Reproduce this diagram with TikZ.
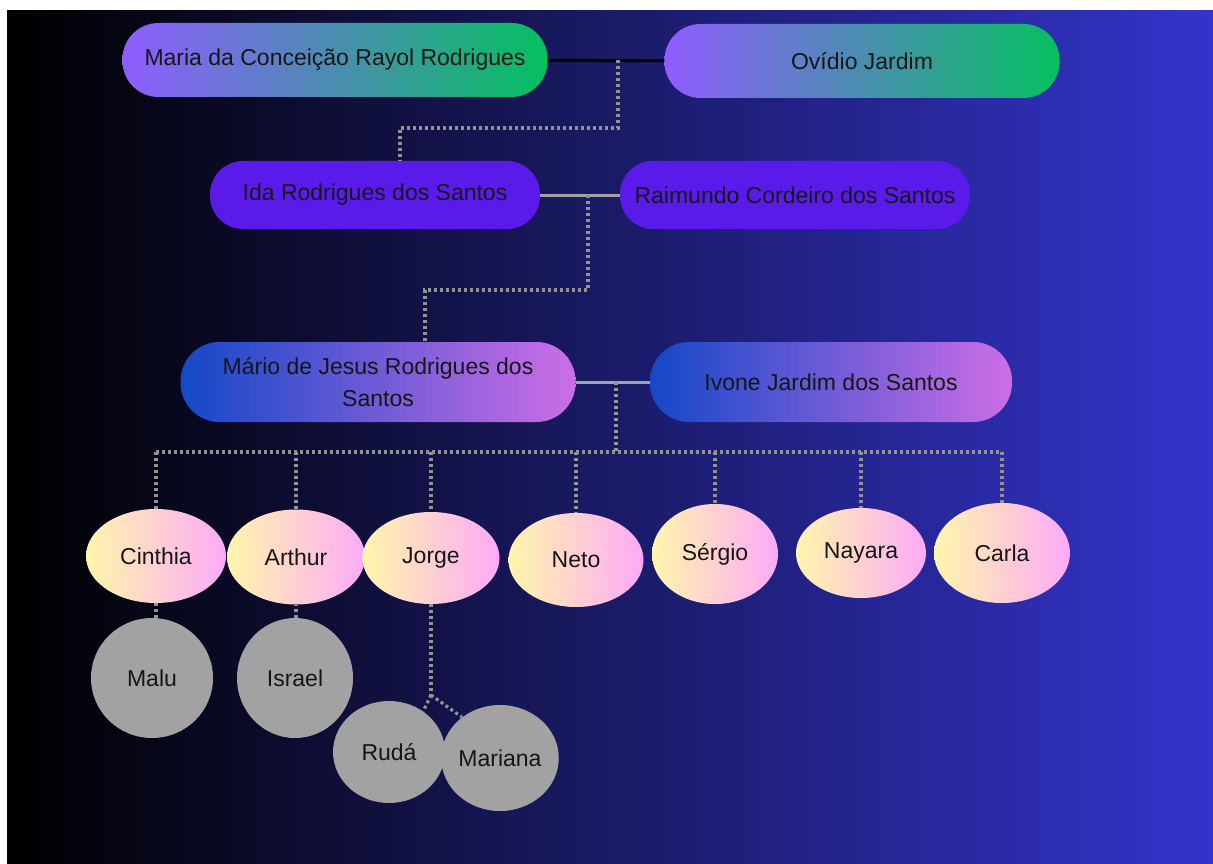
\documentclass[tikz,border=0pt]{standalone}
\usepackage{fontspec}
\setmainfont{Liberation Sans}
\usepackage{tikz}
\usetikzlibrary{shapes.geometric}

\definecolor{ink}{HTML}{161616}
\definecolor{bgright}{HTML}{3434CC}
\definecolor{lilac}{HTML}{8F5CFF}
\definecolor{emerald}{HTML}{05C060}
\definecolor{violet}{HTML}{5A1AEA}
\definecolor{royal}{HTML}{1448C8}
\definecolor{orchid}{HTML}{CC6EE6}
\definecolor{cream}{HTML}{FFF6AC}
\definecolor{rose}{HTML}{FCAAF8}
\definecolor{stone}{HTML}{A2A2A2}
\definecolor{dotgray}{HTML}{929292}

\begin{document}
\begin{tikzpicture}[x=1pt, y=-1pt,
  every node/.style={font=\fontsize{23}{32}\selectfont, text=ink, inner sep=0pt},
  pill/.style={rectangle, rounded corners=36pt, minimum height=74pt},
  greatgen/.style={pill, left color=lilac, right color=emerald},
  grandgen/.style={pill, rounded corners=33pt, minimum height=68pt, fill=violet},
  parentgen/.style={pill, rounded corners=39pt, minimum height=80pt, left color=royal, right color=orchid},
  child/.style={ellipse, left color=cream, right color=rose},
  grandchild/.style={ellipse, fill=stone},
  marriage/.style={line width=3pt},
  dotline/.style={draw=dotgray, line width=3.2pt, dash pattern=on 3pt off 3pt}]

  % background
  \useasboundingbox (0,0) rectangle (1213,864);
  \fill[white] (0,0) rectangle (1213,864);
  \shade[left color=black, right color=bgright] (7,11) rectangle (1213,864);

  % first couple
  \node[greatgen, minimum width=425pt] (maria) at (335,60) {Maria da Conceição Rayol Rodrigues};
  \node[greatgen, minimum width=395pt] (ovidio) at (862,61) {Ovídio Jardim};
  \draw[marriage, black] (maria) -- (ovidio);
  \coordinate (j1) at (618,60);

  % second couple
  \node[grandgen, minimum width=330pt] (ida) at (375,195) {Ida Rodrigues dos Santos};
  \node[grandgen, minimum width=350pt] (raimundo) at (795,195) {Raimundo Cordeiro dos Santos};
  \draw[marriage, stone] (ida) -- (raimundo);
  \coordinate (j2) at (588,195);
  \draw[dotline] (j1) -- ++(0,68) -| ([xshift=25pt]ida.north);

  % third couple
  \node[parentgen, minimum width=395pt, align=center] (mario) at (378,382) {Mário de Jesus Rodrigues dos\\Santos};
  \node[parentgen, minimum width=362pt] (ivone) at (831,382) {Ivone Jardim dos Santos};
  \draw[marriage, stone] (mario) -- (ivone);
  \coordinate (j3) at (616,382);
  \draw[dotline] (j2) -- ++(0,95) -| ([xshift=47pt]mario.north);

  % children
  \node[child, minimum width=140pt, minimum height=94pt] (cinthia) at (156,556) {Cinthia};
  \node[child, minimum width=138pt, minimum height=95pt] (arthur) at (296,557) {Arthur};
  \node[child, minimum width=137pt, minimum height=92pt] (jorge) at (431,558) {Jorge};
  \node[child, minimum width=135pt, minimum height=94pt] (neto) at (576,560) {Neto};
  \node[child, minimum width=126pt, minimum height=100pt] (sergio) at (715,554) {Sérgio};
  \node[child, minimum width=130pt, minimum height=90pt] (nayara) at (861,553) {Nayara};
  \node[child, minimum width=136pt, minimum height=100pt] (carla) at (1002,553) {Carla};
  \coordinate (bar) at (616,452);
  \draw[dotline] (j3) -- (bar);
  \draw[dotline] (cinthia.north |- bar) -- (carla.north |- bar);
  \foreach \kid in {cinthia,arthur,jorge,neto,sergio,nayara,carla}
    \draw[dotline] (\kid.north |- bar) -- (\kid.north);

  % grandchildren
  \node[grandchild, minimum width=122pt, minimum height=120pt] (malu) at (152,678) {Malu};
  \node[grandchild, minimum width=116pt, minimum height=120pt] (israel) at (295,678) {Israel};
  \node[grandchild, minimum width=112pt, minimum height=102pt] (ruda) at (389,752) {Rudá};
  \node[grandchild, minimum width=106pt, minimum height=106pt] (mariana) at (500,758) {Mariana};
  \draw[dotline] (malu.north -| cinthia.south) -- (cinthia.south);
  \draw[dotline] (israel.north -| arthur.south) -- (arthur.south);
  \coordinate (fork) at (431,695);
  \draw[dotline] (jorge.south) -- (fork);
  \draw[dotline] (fork) -- (ruda.50);
  \draw[dotline] (fork) -- (mariana.133);
\end{tikzpicture}
\end{document}
